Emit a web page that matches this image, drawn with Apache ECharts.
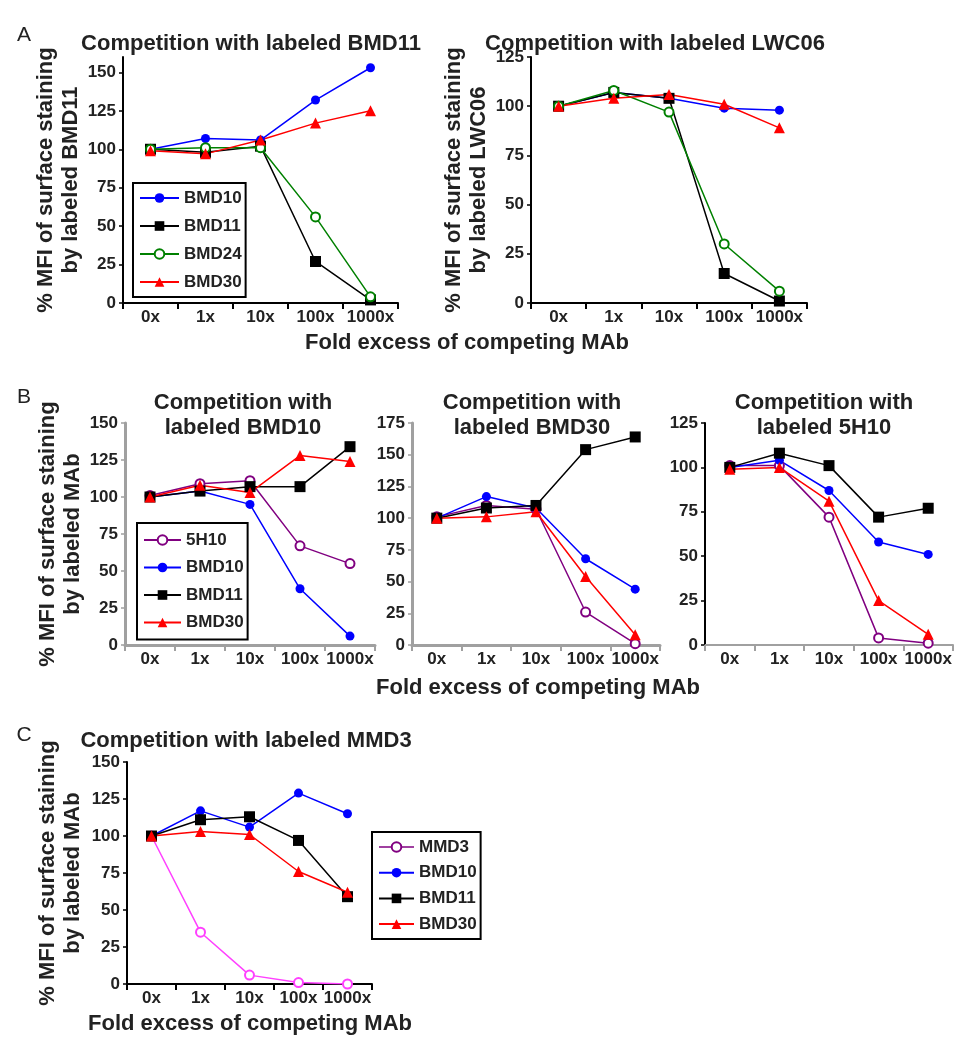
<!DOCTYPE html>
<html><head><meta charset="utf-8">
<script src="https://cdn.jsdelivr.net/npm/echarts@6/dist/echarts.min.js"></script>
<style>html,body{margin:0;padding:0;background:#fff}#c{width:976px;height:1050px}</style>
</head><body><div id="c"></div>
<script>
// ---- data ----
const cats = ['0x', '1x', '10x', '100x', '1000x'];
// Panel A, competition with labeled BMD11
const a1_BMD10 = [100, 107, 106, 132, 153];
const a1_BMD11 = [100, 98, 102, 27, 2];
const a1_BMD24 = [100, 101, 101, 56, 4];
const a1_BMD30 = [99, 97, 106, 117, 125];
// Panel A, competition with labeled LWC06
const a2_BMD10 = [100, 107, 104, 99, 98];
const a2_BMD11 = [100, 107, 104, 15, 1];
const a2_BMD24 = [100, 108, 97, 30, 6];
const a2_BMD30 = [100, 104, 106, 101, 89];
// Panel B, labeled BMD10
const b1_5H10 = [101, 109, 111, 67, 55];
const b1_BMD10 = [100, 104, 95, 38, 6];
const b1_BMD11 = [100, 104, 107, 107, 134];
const b1_BMD30 = [100, 108, 103, 128, 124];
// Panel B, labeled BMD30
const b2_5H10 = [101, 110, 107, 26, 1];
const b2_BMD10 = [100, 117, 108, 68, 44];
const b2_BMD11 = [100, 108, 110, 154, 164];
const b2_BMD30 = [100, 101, 105, 54, 8];
// Panel B, labeled 5H10
const b3_5H10 = [101, 101, 72, 4, 1];
const b3_BMD10 = [100, 104, 87, 58, 51];
const b3_BMD11 = [100, 108, 101, 72, 77];
const b3_BMD30 = [99, 100, 81, 25, 6];
// Panel C, labeled MMD3
const c_MMD3 = [100, 35, 6, 1, 0];
const c_BMD10 = [100, 117, 106, 129, 115];
const c_BMD11 = [100, 111, 113, 97, 59];
const c_BMD30 = [100, 103, 101, 76, 62];
// tick values
const ticks150 = [0, 25, 50, 75, 100, 125, 150];
const ticks125 = [0, 25, 50, 75, 100, 125];
const ticks175 = [0, 25, 50, 75, 100, 125, 150, 175];

// ---- styles ----
const FONT = 'Liberation Sans, Arial, sans-serif';
const TXT = '#222';
const styles = {
  'BMD10': {color: '#0000ff', symbol: 'circle', size: 9},
  'BMD11': {color: '#000000', symbol: 'rect', size: 11},
  'BMD24': {color: '#008000', symbol: 'emptyCircle', size: 9},
  'BMD30': {color: '#ff0000', symbol: 'triangle', size: 11},
  '5H10': {color: '#800080', symbol: 'emptyCircle', size: 9},
  'MMD3': {color: '#ff40ff', symbol: 'emptyCircle', size: 9}
};
function mk(name, data, gi) {
  const s = styles[name];
  return {
    type: 'line', name: name, data: data, xAxisIndex: gi, yAxisIndex: gi,
    symbol: s.symbol, symbolSize: s.size, showAllSymbol: true,
    lineStyle: {color: s.color, width: 1.5},
    itemStyle: {color: s.color, borderColor: s.color, borderWidth: s.symbol === 'emptyCircle' ? 2 : 0},
    emphasis: {disabled: true}, animation: false
  };
}

const grids = [
  {left: 123, top: 57, width: 275, height: 246},
  {left: 531, top: 57, width: 276, height: 246},
  {left: 125, top: 423, width: 250, height: 222},
  {left: 412, top: 423, width: 248, height: 222},
  {left: 705, top: 423, width: 248, height: 222},
  {left: 127, top: 762, width: 245, height: 222}
];
const GRAY = '#a0a0a0';
const axCfg = [
  {max: 160, ticks: ticks150, xc: '#000', yc: '#000', w: 2, name: '% MFI of surface staining\nby labeled BMD11', gap: 40},
  {max: 125, ticks: ticks125, xc: '#000', yc: '#000', w: 2, name: '% MFI of surface staining\nby labeled LWC06', gap: 37},
  {max: 150, ticks: ticks150, xc: GRAY, yc: GRAY, w: 3, name: '% MFI of surface staining\nby labeled MAb', gap: 40},
  {max: 175, ticks: ticks175, xc: GRAY, yc: GRAY, w: 3, name: '', gap: 40},
  {max: 125, ticks: ticks125, xc: GRAY, yc: '#000', w: 2, name: '', gap: 40},
  {max: 150, ticks: ticks150, xc: '#000', yc: '#000', w: 2, name: '% MFI of surface staining\nby labeled MAb', gap: 42}
];
const labelStyle = {fontSize: 17, fontWeight: 'bold', color: TXT, fontFamily: FONT};
const xAxes = axCfg.map((c, i) => ({
  type: 'category', gridIndex: i, data: cats, boundaryGap: true,
  axisLine: {show: true, lineStyle: {color: c.xc, width: c.w}},
  axisTick: {show: true, length: 6, alignWithLabel: false, lineStyle: {color: c.xc, width: 2}},
  axisLabel: Object.assign({interval: 0, margin: 6}, labelStyle),
  splitLine: {show: false}
}));
const yAxes = axCfg.map((c, i) => ({
  type: 'value', gridIndex: i, min: 0, max: c.max, interval: 25,
  name: c.name, nameLocation: 'middle', nameRotate: 90, nameGap: c.gap,
  nameTextStyle: {fontSize: 22, fontWeight: 'bold', color: TXT, fontFamily: FONT, lineHeight: 25},
  axisLine: {show: true, lineStyle: {color: c.yc, width: c.w}},
  axisTick: {show: true, length: 4, customValues: c.ticks, lineStyle: {color: c.yc, width: 1.5}},
  axisLabel: Object.assign({margin: 7, customValues: c.ticks}, labelStyle),
  splitLine: {show: false}
}));

const series = [
  mk('BMD10', a1_BMD10, 0), mk('BMD11', a1_BMD11, 0), mk('BMD24', a1_BMD24, 0), mk('BMD30', a1_BMD30, 0),
  mk('BMD10', a2_BMD10, 1), mk('BMD11', a2_BMD11, 1), mk('BMD24', a2_BMD24, 1), mk('BMD30', a2_BMD30, 1),
  mk('5H10', b1_5H10, 2), mk('BMD10', b1_BMD10, 2), mk('BMD11', b1_BMD11, 2), mk('BMD30', b1_BMD30, 2),
  mk('5H10', b2_5H10, 3), mk('BMD10', b2_BMD10, 3), mk('BMD11', b2_BMD11, 3), mk('BMD30', b2_BMD30, 3),
  mk('5H10', b3_5H10, 4), mk('BMD10', b3_BMD10, 4), mk('BMD11', b3_BMD11, 4), mk('BMD30', b3_BMD30, 4),
  mk('MMD3', c_MMD3, 5), mk('BMD10', c_BMD10, 5), mk('BMD11', c_BMD11, 5), mk('BMD30', c_BMD30, 5)
];

const legendText = {fontSize: 17, fontWeight: 'bold', color: TXT, fontFamily: FONT, lineHeight: 18};
function legend(data, left, top, iw, gap, pad) {
  return {
    data: data, left: left, top: top, orient: 'vertical', itemWidth: iw, itemHeight: 12,
    itemGap: gap, padding: pad, borderColor: '#000', borderWidth: 2, backgroundColor: '#fff',
    textStyle: legendText, selectedMode: false
  };
}
const legends = [
  legend(['BMD10', 'BMD11', 'BMD24', 'BMD30'], 133, 183, 39, 10, [6, 4, 6, 6]),
  legend(['5H10', 'BMD10', 'BMD11', 'BMD30'], 137, 523, 37, 9.5, [8, 4, 8, 6]),
  legend([{name: 'MMD3', itemStyle: {color: '#800080', borderColor: '#800080', borderWidth: 2},
           lineStyle: {color: '#800080', width: 1.5, type: 'solid'}}, 'BMD10', 'BMD11', 'BMD30'],
         372, 832, 35, 7.7, [6, 4, 6, 6])
];

function txt(text, x, y, size, weight) {
  return {type: 'text', x: x, y: y, silent: true, style: {
    text: text, fontSize: size, fontWeight: weight, fontFamily: FONT, fill: TXT,
    align: 'center', verticalAlign: 'middle', textAlign: 'center', textVerticalAlign: 'middle'}};
}
const graphics = [
  txt('A', 24, 35, 21, 'normal'),
  txt('B', 24, 397, 21, 'normal'),
  txt('C', 24, 735, 21, 'normal'),
  txt('Competition with labeled BMD11', 251, 44, 22, 'bold'),
  txt('Competition with labeled LWC06', 655, 44, 22, 'bold'),
  txt('Fold excess of competing MAb', 467, 343, 22, 'bold'),
  txt('Competition with', 243, 403, 22, 'bold'),
  txt('labeled BMD10', 243, 428, 22, 'bold'),
  txt('Competition with', 532, 403, 22, 'bold'),
  txt('labeled BMD30', 532, 428, 22, 'bold'),
  txt('Competition with', 824, 403, 22, 'bold'),
  txt('labeled 5H10', 824, 428, 22, 'bold'),
  txt('Fold excess of competing MAb', 538, 688, 22, 'bold'),
  txt('Competition with labeled MMD3', 246, 741, 22, 'bold'),
  txt('Fold excess of competing MAb', 250, 1024, 22, 'bold')
];

const chart = echarts.init(document.getElementById('c'), null, {renderer: 'canvas'});
chart.setOption({
  backgroundColor: '#fff', animation: false,
  grid: grids, xAxis: xAxes, yAxis: yAxes, series: series, legend: legends, graphic: graphics
});
</script></body></html>
